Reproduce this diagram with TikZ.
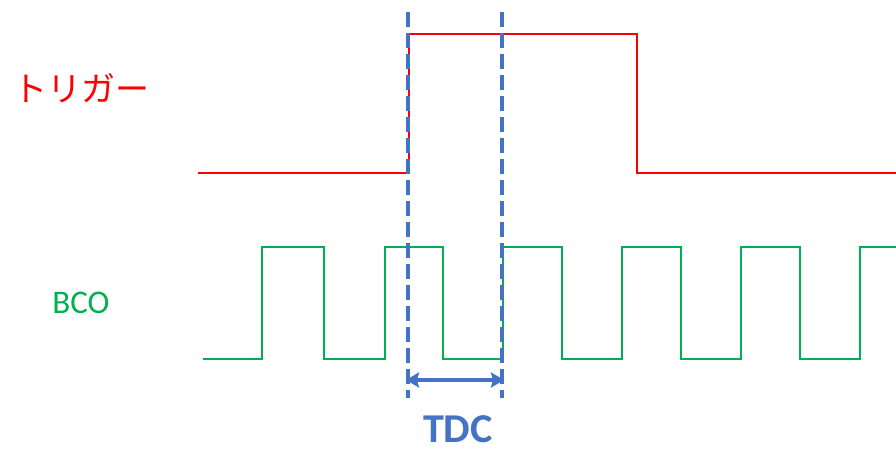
\documentclass[tikz,border=0pt]{standalone}
\usepackage{fontspec}
\setmainfont{Carlito}
\newfontfamily\jpfont{Noto Sans CJK JP}
\usetikzlibrary{arrows.meta}
\definecolor{trigred}{HTML}{FF0000}
\definecolor{bcogreen}{HTML}{00B050}
\definecolor{tdcblue}{HTML}{4472C4}
\tikzset{
  trigline/.style={draw=trigred, line width=2.6pt, line join=miter},
  bcoline/.style={draw=bcogreen, line width=2.4pt, line join=miter},
  guide/.style={draw=tdcblue, line width=4.6pt, dash pattern=on 15pt off 6pt},
  span/.style={draw=tdcblue, line width=4.6pt, {Stealth[length=13pt,width=15pt,inset=2pt]}-{Stealth[length=13pt,width=15pt,inset=2pt]}},
}
\begin{document}
\begin{tikzpicture}[x=1pt,y=-1pt]
\useasboundingbox (0,0) rectangle (896,448);
% labels
\node[text=trigred, font=\jpfont\fontsize{34}{40}\selectfont, inner sep=0pt] (trig) at (81,88) {トリガー};
\node[text=bcogreen, font=\fontsize{33}{38}\selectfont, inner sep=0pt] (bco) at (81,303) {BCO};
% trigger waveform
\coordinate (t0) at (198,173);
\coordinate (t1) at (896,173);
\draw[trigline] (t0) -- (409,173) -- (409,34) -- (637,34) -- (637,173) -- (t1);
% BCO waveform
\coordinate (b0) at (203,359);
\coordinate (b1) at (896,247);
\draw[bcoline] (b0) -- (262,359) -- (262,247) -- (324,247) -- (324,359)
  -- (385,359) -- (385,247) -- (443,247) -- (443,359)
  -- (503,359) -- (503,247) -- (562,247) -- (562,359)
  -- (622,359) -- (622,247) -- (681,247) -- (681,359)
  -- (741,359) -- (741,247) -- (800,247) -- (800,359)
  -- (860,359) -- (860,247) -- (b1);
% guides
\coordinate (g1top) at (408,12);
\coordinate (g1bot) at (408,398);
\coordinate (g2top) at (502,12);
\coordinate (g2bot) at (502,398);
\draw[guide] (g1top) -- (g1bot);
\draw[guide] (g2top) -- (g2bot);
\coordinate (a1) at (406,380);
\coordinate (a2) at (504,380);
\draw[span] (a1) -- (a2);
\node[text=tdcblue, font=\bfseries\fontsize{41}{44}\selectfont, inner sep=0pt, xscale=1.03] (tdc) at (458,429.5) {TDC};
\end{tikzpicture}
\end{document}
